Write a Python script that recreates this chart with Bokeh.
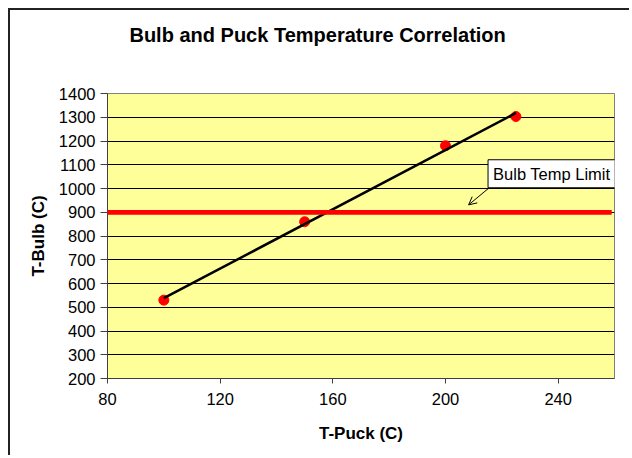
from bokeh.plotting import figure
from bokeh.models import Range1d, FixedTicker, Label, BoxAnnotation, Arrow, OpenHead, LinearAxis
from bokeh.embed import file_html
from bokeh.resources import INLINE

# ---- data ----
t_puck = [100, 150, 200, 225]
t_bulb = [530, 860, 1180, 1303]
trend_x = [100, 225]
trend_y = [538, 1318]
bulb_limit = 900
limit_label = "Bulb Temp Limit"
x_ticks = [80, 120, 160, 200, 240]
y_ticks = [200, 300, 400, 500, 600, 700, 800, 900, 1000, 1100, 1200, 1300, 1400]
title_text = "Bulb and Puck Temperature Correlation"
x_label = "T-Puck (C)"
y_label = "T-Bulb (C)"

FONT = "Liberation Sans"
W, H = 621, 447

p = figure(width=W, height=H, output_backend="svg", toolbar_location=None,
           x_range=Range1d(80, 260), y_range=Range1d(200, 1400),
           min_border_left=97, min_border_right=17, min_border_top=83, min_border_bottom=79)
p.styles = {"margin-left": "8px", "margin-top": "8px",
            "border-top": "2px solid #222", "border-left": "2px solid #222"}

p.background_fill_color = "#FFFF99"
p.border_fill_color = "white"
p.outline_line_color = "#808080"
p.outline_line_width = 1

xa = p.below[0]
ya = p.left[0]

# grid
p.xgrid.visible = False
p.ygrid.ticker = FixedTicker(ticks=y_ticks)
p.ygrid.grid_line_color = "black"
p.ygrid.grid_line_width = 1

# axes
xa.ticker = FixedTicker(ticks=x_ticks)
ya.ticker = FixedTicker(ticks=y_ticks)
for ax in (xa, ya):
    ax.axis_line_color = "#404040"
    ax.major_tick_line_color = "#404040"
    ax.minor_tick_line_color = None
    ax.major_tick_in = 0
    ax.major_label_text_font = FONT
    ax.major_label_text_font_size = "16.5px"
    ax.major_label_text_color = "black"
    ax.axis_label_text_font = FONT
    ax.axis_label_text_font_size = "17px"
    ax.axis_label_text_font_style = "bold"
    ax.axis_label_text_color = "black"
xa.major_tick_out = 5
xa.major_label_standoff = 9
xa.axis_label = x_label
xa.axis_label_standoff = 16
ya.major_tick_out = 7
ya.major_label_standoff = 5
ya.axis_label = y_label
ya.axis_label_standoff = 8

# chart title, drawn as the single label of a bare axis above the plot area
title_pos = 154.6
title_axis = LinearAxis(ticker=FixedTicker(ticks=[title_pos]),
                        major_label_overrides={title_pos: title_text},
                        axis_line_color=None, major_tick_line_color=None,
                        minor_tick_line_color=None, major_tick_out=0, major_tick_in=0,
                        major_label_standoff=48,
                        major_label_text_font=FONT, major_label_text_font_size="20px",
                        major_label_text_font_style="bold", major_label_text_color="black")
p.add_layout(title_axis, "above")

# limit line
p.add_layout(BoxAnnotation(left=77.4, right=259, bottom=bulb_limit - 10, top=bulb_limit + 10,
                           fill_color="#FF0000", fill_alpha=1, line_color=None, level="overlay"))

# data points and trend line
p.scatter(t_puck, t_bulb, size=10, color="#FF0000", line_color="#FF0000")
p.line(trend_x, trend_y, line_color="black", line_width=2.5)

# callout
p.add_layout(Label(x=215.1, y=1121, text=limit_label, anchor="top_left",
                   text_font=FONT, text_font_size="16.5px", text_color="black",
                   padding=5, border_line_color="black", border_line_width=1,
                   background_fill_color="white", background_fill_alpha=1))
p.add_layout(Arrow(end=OpenHead(size=8, line_width=1, line_color="black"),
                   x_start=215.3, y_start=1001, x_end=208.2, y_end=931,
                   line_width=1, line_color="black"))

open("out.html", "w").write(file_html(p, INLINE))
